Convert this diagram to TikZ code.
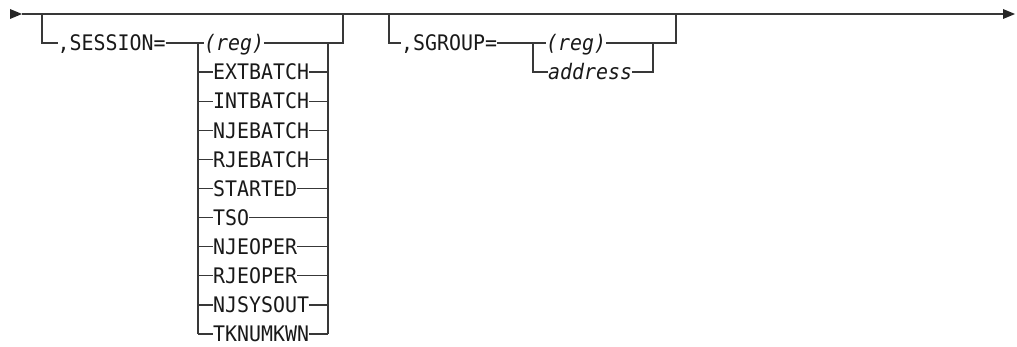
\documentclass[tikz,border=0pt]{standalone}
\usepackage{fontspec}
\setmonofont[FakeStretch=0.93]{DejaVu Sans Mono}
\tikzset{
  lbl/.style={inner sep=0pt, anchor=base west, font=\ttfamily\fontsize{21.4pt}{24pt}\selectfont, text=black!90},
  ilbl/.style={lbl, font=\ttfamily\itshape\fontsize{21.4pt}{24pt}\selectfont},
  ln/.style={line width=1.3pt, draw=black!78, line join=miter},
  tip/.style={fill=black!85, draw=none},
}
\begin{document}
\begin{tikzpicture}[x=1pt,y=-1pt]
\useasboundingbox (0,0) rectangle (1017,347);
% main line
\coordinate (ms) at (22,14);
\coordinate (me) at (1003,14);
\fill[tip] (10,9) -- (ms) -- (10,19) -- cycle;
\fill[tip] (me) ++(0,-5) -- (1015,14) -- (1003,19) -- cycle;
\draw[ln] (ms) -- (me);
% SESSION branch
\coordinate (a1) at (42,14);
\coordinate (a2) at (42,43);
\node[lbl] (sess) at (57.5,50.8) {,SESSION=};
\draw[ln] (a1) -- (a2) -- (a2 -| sess.west);
% choices
\node[ilbl] (n0) at (204,50.8) {(reg)};
\coordinate (L0) at (198,43);
\coordinate (R0) at (328,43);
\draw[ln] (sess.east |- L0) -- (L0) -- (L0 -| n0.west);
\draw[ln] (n0.east |- R0) -- (R0);
\foreach \t [count=\i] in {EXTBATCH,INTBATCH,NJEBATCH,RJEBATCH,STARTED,TSO,NJEOPER,RJEOPER,NJSYSOUT,TKNUMKWN}{
  \pgfmathsetmacro{\yy}{43+29.1*\i}
  \coordinate (L\i) at (198,\yy);
  \coordinate (R\i) at (328,\yy);
  \node[lbl] (n\i) at (213,\yy+7.8) {\t};
  \draw[ln] (L\i) -- (L\i -| n\i.west);
  \draw[ln] (n\i.east |- R\i) -- (R\i);
}
\draw[ln] (L0) -- (L10);
\draw[ln] (R10) -- (R0);
\coordinate (b1) at (343,43);
\coordinate (b2) at (343,14);
\draw[ln] (R0) -- (b1) -- (b2);
% SGROUP branch
\coordinate (c1) at (389,14);
\coordinate (c2) at (389,43);
\node[lbl] (sg) at (401,50.8) {,SGROUP=};
\draw[ln] (c1) -- (c2) -- (c2 -| sg.west);
\coordinate (P0) at (533,43);
\coordinate (P1) at (533,72.1);
\coordinate (Q0) at (653,43);
\coordinate (Q1) at (653,72.1);
\node[ilbl] (g0) at (546,50.8) {(reg)};
\node[ilbl] (g1) at (548,79.9) {address};
\draw[ln] (sg.east |- P0) -- (P0) -- (P0 -| g0.west);
\draw[ln] (P0) -- (P1) -- (P1 -| g1.west);
\draw[ln] (g0.east |- Q0) -- (Q0);
\draw[ln] (g1.east |- Q1) -- (Q1) -- (Q0);
\coordinate (d1) at (676,43);
\coordinate (d2) at (676,14);
\draw[ln] (Q0) -- (d1) -- (d2);
\end{tikzpicture}
\end{document}
